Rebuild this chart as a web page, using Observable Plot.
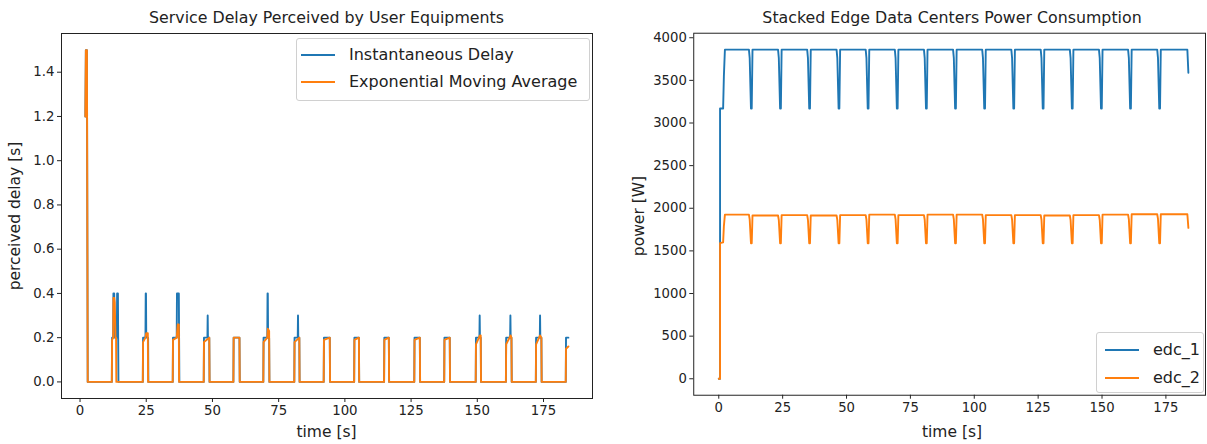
<!DOCTYPE html>
<html>
<head>
<meta charset="utf-8">
<script src="https://cdn.jsdelivr.net/npm/d3@7"></script>
<script src="https://cdn.jsdelivr.net/npm/@observablehq/plot@0.6"></script>
<style>
  html, body { margin: 0; padding: 0; background: #fff; overflow: hidden; }
  #wrap { position: relative; width: 1207px; height: 444px; overflow: hidden; font-family: "DejaVu Sans", sans-serif; color: #222; }
  .abs { position: absolute; white-space: nowrap; line-height: 1; }
  .title { font-size: 15.8px; transform: translateX(-50%); }
  .xlab { font-size: 15.5px; transform: translateX(-50%); }
  .ylab { font-size: 15.5px; transform: translate(-50%, -50%) rotate(-90deg); }
  .legend { position: absolute; border: 1px solid #d0d0d0; border-radius: 3px; background: rgba(255,255,255,0.85); box-sizing: border-box; }
  .row { position: absolute; font-size: 16px; display: flex; align-items: center; line-height: 1; }
  .row svg { margin-right: 14px; }
</style>
</head>
<body>
<div id="wrap">
  <div id="left" class="abs" style="left:0;top:0"></div>
  <div id="right" class="abs" style="left:600px;top:0"></div>
</div>
<script>
// ---------------- data ----------------
const xTicks = [0, 25, 50, 75, 100, 125, 150, 175];
const delayTicks = [0, 0.2, 0.4, 0.6, 0.8, 1.0, 1.2, 1.4];
const powerTicks = [0, 500, 1000, 1500, 2000, 2500, 3000, 3500, 4000];

const delaySeries = ["Instantaneous Delay", "Exponential Moving Average"];
const powerSeries = ["edc_1", "edc_2"];
const colors = ["#1f77b4", "#ff7f0e"];

// Instantaneous delay (time [s], delay [s])
const instT = [2.0, 2.2, 2.6, 2.9,
  12.0, 12.1, 12.5, 12.6, 12.9, 13.0, 13.9, 14.0, 14.3, 14.4, 14.5,
  23.7, 23.8, 24.7, 24.8, 24.9, 25.0, 25.7, 25.8,
  35.0, 35.1, 36.5, 36.6, 37.3, 37.4, 37.5,
  46.7, 46.8, 48.1, 48.2, 48.3, 48.8, 48.9,
  57.9, 58.0, 60.2, 60.3,
  69.2, 69.3, 70.7, 70.8, 70.9, 71.0, 71.4, 71.5,
  80.9, 81.0, 82.2, 82.3, 82.4, 82.8, 82.9,
  92.0, 92.1, 94.3, 94.4,
  103.5, 103.6, 105.3, 105.4,
  114.8, 114.9, 116.6, 116.7,
  126.2, 126.3, 128.3, 128.4,
  137.5, 137.6, 139.6, 139.7,
  149.4, 149.5, 150.8, 150.9, 151.0, 151.3, 151.4,
  160.8, 160.9, 162.4, 162.5, 162.6, 162.9, 163.0,
  172.1, 172.2, 173.6, 173.7, 173.8, 174.2, 174.3,
  183.4, 183.5, 184.4];
const instV = [1.2, 1.5, 1.5, 0,
  0, 0.2, 0.2, 0.4, 0.4, 0.2, 0.2, 0.4, 0.4, 0.2, 0,
  0, 0.2, 0.2, 0.4, 0.4, 0.2, 0.2, 0,
  0, 0.2, 0.2, 0.4, 0.4, 0.2, 0,
  0, 0.2, 0.2, 0.3, 0.2, 0.2, 0,
  0, 0.2, 0.2, 0,
  0, 0.2, 0.2, 0.4, 0.4, 0.2, 0.2, 0,
  0, 0.2, 0.2, 0.3, 0.2, 0.2, 0,
  0, 0.2, 0.2, 0,
  0, 0.2, 0.2, 0,
  0, 0.2, 0.2, 0,
  0, 0.2, 0.2, 0,
  0, 0.2, 0.2, 0,
  0, 0.2, 0.2, 0.3, 0.2, 0.2, 0,
  0, 0.2, 0.2, 0.3, 0.2, 0.2, 0,
  0, 0.2, 0.2, 0.3, 0.2, 0.2, 0,
  0, 0.2, 0.2];

// Exponential moving average of the delay
const emaT = [2.0, 2.2, 2.6, 2.9,
  12.0, 12.1, 12.5, 12.6, 12.9, 13.1, 13.4, 13.6, 13.7,
  23.7, 23.8, 24.7, 25.0, 25.6, 25.7,
  35.0, 35.1, 36.5, 36.9, 37.3, 37.4,
  46.7, 46.8, 48.8, 48.9,
  57.9, 58.0, 60.2, 60.3,
  69.2, 69.3, 70.7, 70.9, 71.4, 71.5,
  80.9, 81.0, 82.8, 82.9,
  92.0, 92.1, 94.3, 94.4,
  103.5, 103.6, 105.3, 105.4,
  114.8, 114.9, 116.6, 116.7,
  126.2, 126.3, 128.3, 128.4,
  137.5, 137.6, 139.6, 139.7,
  149.4, 149.5, 151.0, 151.3, 151.4,
  160.8, 160.9, 162.6, 162.9, 163.0,
  172.1, 172.2, 173.7, 174.2, 174.3,
  183.4, 183.5, 184.4];
const emaV = [1.2, 1.5, 1.5, 0,
  0, 0.19, 0.2, 0.38, 0.38, 0.36, 0.2, 0.2, 0,
  0, 0.18, 0.2, 0.22, 0.22, 0,
  0, 0.19, 0.2, 0.26, 0.26, 0,
  0, 0.18, 0.2, 0,
  0, 0.2, 0.2, 0,
  0, 0.18, 0.2, 0.24, 0.23, 0,
  0, 0.18, 0.2, 0,
  0, 0.19, 0.2, 0,
  0, 0.19, 0.2, 0,
  0, 0.19, 0.2, 0,
  0, 0.19, 0.2, 0,
  0, 0.19, 0.2, 0,
  0, 0.17, 0.21, 0.21, 0,
  0, 0.17, 0.21, 0.2, 0,
  0, 0.17, 0.21, 0.2, 0,
  0, 0.15, 0.16];

// Stacked edge data centers power (time [s], power [W])
const powerT = [0, 0.5, 0.5, 1.7, 2.0, 2.4,
  11.8, 12.1, 12.6, 12.9, 13.2,
  23.2, 23.5, 24.0, 24.3, 24.6,
  34.6, 34.9, 35.4, 35.7, 36.0,
  46.1, 46.4, 46.9, 47.2, 47.5,
  57.5, 57.8, 58.3, 58.6, 58.9,
  68.9, 69.2, 69.7, 70.0, 70.3,
  80.3, 80.6, 81.1, 81.4, 81.7,
  91.7, 92.0, 92.5, 92.8, 93.1,
  103.1, 103.4, 103.9, 104.2, 104.5,
  114.5, 114.8, 115.3, 115.6, 115.9,
  126.0, 126.3, 126.8, 127.1, 127.4,
  137.4, 137.7, 138.2, 138.5, 138.8,
  148.8, 149.1, 149.6, 149.9, 150.2,
  160.2, 160.5, 161.0, 161.3, 161.6,
  171.6, 171.9, 172.4, 172.7, 173.0,
  183.4, 183.8];
const edc1 = [0, 0, 3170, 3170, 3550, 3860,
  3860, 3760, 3170, 3170, 3860,
  3860, 3760, 3170, 3170, 3860,
  3860, 3760, 3170, 3170, 3860,
  3860, 3760, 3170, 3170, 3860,
  3860, 3760, 3170, 3170, 3860,
  3860, 3760, 3170, 3170, 3860,
  3860, 3760, 3170, 3170, 3860,
  3860, 3760, 3170, 3170, 3860,
  3860, 3760, 3170, 3170, 3860,
  3860, 3760, 3170, 3170, 3860,
  3860, 3760, 3170, 3170, 3860,
  3860, 3760, 3170, 3170, 3860,
  3860, 3760, 3170, 3170, 3860,
  3860, 3760, 3170, 3170, 3860,
  3860, 3760, 3170, 3170, 3860,
  3860, 3590];
const edc2 = [0, 0, 1590, 1600, 1790, 1925,
  1925, 1870, 1590, 1590, 1915,
  1915, 1860, 1590, 1590, 1920,
  1920, 1865, 1590, 1590, 1915,
  1915, 1860, 1590, 1590, 1920,
  1920, 1865, 1590, 1590, 1925,
  1925, 1870, 1590, 1590, 1920,
  1920, 1865, 1590, 1590, 1925,
  1925, 1870, 1590, 1590, 1925,
  1925, 1870, 1590, 1590, 1920,
  1920, 1865, 1590, 1590, 1920,
  1920, 1865, 1590, 1590, 1915,
  1915, 1860, 1590, 1590, 1920,
  1920, 1865, 1590, 1590, 1925,
  1925, 1870, 1590, 1590, 1930,
  1930, 1875, 1590, 1590, 1930,
  1930, 1770];

// ---------------- build tables ----------------
const instRows = instT.map((t, i) => ({t, v: instV[i], s: delaySeries[0]}));
const emaRows = emaT.map((t, i) => ({t, v: emaV[i], s: delaySeries[1]}));
const p1Rows = powerT.map((t, i) => ({t, v: edc1[i], s: powerSeries[0]}));
const p2Rows = powerT.map((t, i) => ({t, v: edc2[i], s: powerSeries[1]}));

const baseStyle = {fontFamily: "DejaVu Sans", fontSize: "13.3px", color: "#222", background: "transparent", overflow: "visible"};

const L = {w: 600, h: 444, ml: 61, mr: 8, mt: 33, mb: 46};
const R = {w: 612, h: 444, ml: 94, mr: 2, mt: 33, mb: 46};

const left = Plot.plot({
  width: L.w, height: L.h,
  marginLeft: L.ml, marginRight: L.mr, marginTop: L.mt, marginBottom: L.mb,
  style: baseStyle,
  x: {domain: [-7.0, 193.5], label: null},
  y: {domain: [-0.075, 1.575], label: null},
  color: {domain: delaySeries, range: colors},
  marks: [
    Plot.frame({stroke: "#222", strokeWidth: 1}),
    Plot.axisX({ticks: xTicks, tickSize: 4, tickPadding: 3, label: null, stroke: "#222"}),
    Plot.axisY({ticks: delayTicks, tickSize: 4, tickPadding: 3, tickFormat: d => d.toFixed(1), label: null, stroke: "#222"}),
    Plot.line(instRows, {x: "t", y: "v", stroke: "s", strokeWidth: 1.9, strokeLinejoin: "round"}),
    Plot.line(emaRows, {x: "t", y: "v", stroke: "s", strokeWidth: 1.9, strokeLinejoin: "round"})
  ]
});
document.getElementById("left").appendChild(left);

const right = Plot.plot({
  width: R.w, height: R.h,
  marginLeft: R.ml, marginRight: R.mr, marginTop: R.mt, marginBottom: R.mb,
  style: baseStyle,
  x: {domain: [-9.8, 190.5], label: null},
  y: {domain: [-193, 4053], label: null},
  color: {domain: powerSeries, range: colors},
  marks: [
    Plot.frame({stroke: "#222", strokeWidth: 1}),
    Plot.axisX({ticks: xTicks, tickSize: 4, tickPadding: 3, label: null, stroke: "#222"}),
    Plot.axisY({ticks: powerTicks, tickSize: 4, tickPadding: 3, tickFormat: d => String(d), label: null, stroke: "#222"}),
    Plot.line(p1Rows, {x: "t", y: "v", stroke: "s", strokeWidth: 1.9, strokeLinejoin: "round"}),
    Plot.line(p2Rows, {x: "t", y: "v", stroke: "s", strokeWidth: 1.9, strokeLinejoin: "round"})
  ]
});
document.getElementById("right").appendChild(right);

// ---------------- text & legends ----------------
const wrap = document.getElementById("wrap");
function addText(cls, txt, x, y) {
  const d = document.createElement("div");
  d.className = "abs " + cls;
  d.textContent = txt;
  d.style.left = x + "px";
  d.style.top = y + "px";
  wrap.appendChild(d);
}
const lcx = L.ml + (L.w - L.ml - L.mr) / 2;
const rcx = 600 + R.ml + (R.w - R.ml - R.mr) / 2;
addText("title", "Service Delay Perceived by User Equipments", lcx, 10);
addText("title", "Stacked Edge Data Centers Power Consumption", rcx, 10);
addText("xlab", "time [s]", lcx, 425);
addText("xlab", "time [s]", rcx, 425);
addText("ylab", "perceived delay [s]", 16, (L.mt + L.h - L.mb) / 2);
addText("ylab", "power [W]", 640, (R.mt + R.h - R.mb) / 2);

function legend(labels, box, rows) {
  const lg = document.createElement("div");
  lg.className = "legend";
  Object.assign(lg.style, {left: box.x + "px", top: box.y + "px", width: box.w + "px", height: box.h + "px"});
  labels.forEach((lab, i) => {
    const r = document.createElement("div");
    r.className = "row";
    r.style.left = rows.x + "px";
    r.style.top = (rows.y + i * rows.dy) + "px";
    r.innerHTML = `<svg width="34" height="12"><line x1="0" y1="6" x2="34" y2="6" stroke="${colors[i]}" stroke-width="1.9"/></svg><span>${lab}</span>`;
    lg.appendChild(r);
  });
  wrap.appendChild(lg);
}
legend(delaySeries, {x: 296, y: 38, w: 294, h: 63}, {x: 4, y: 8, dy: 27});
legend(powerSeries, {x: 1096, y: 332, w: 108, h: 61}, {x: 8, y: 9, dy: 28});
</script>
</body>
</html>
